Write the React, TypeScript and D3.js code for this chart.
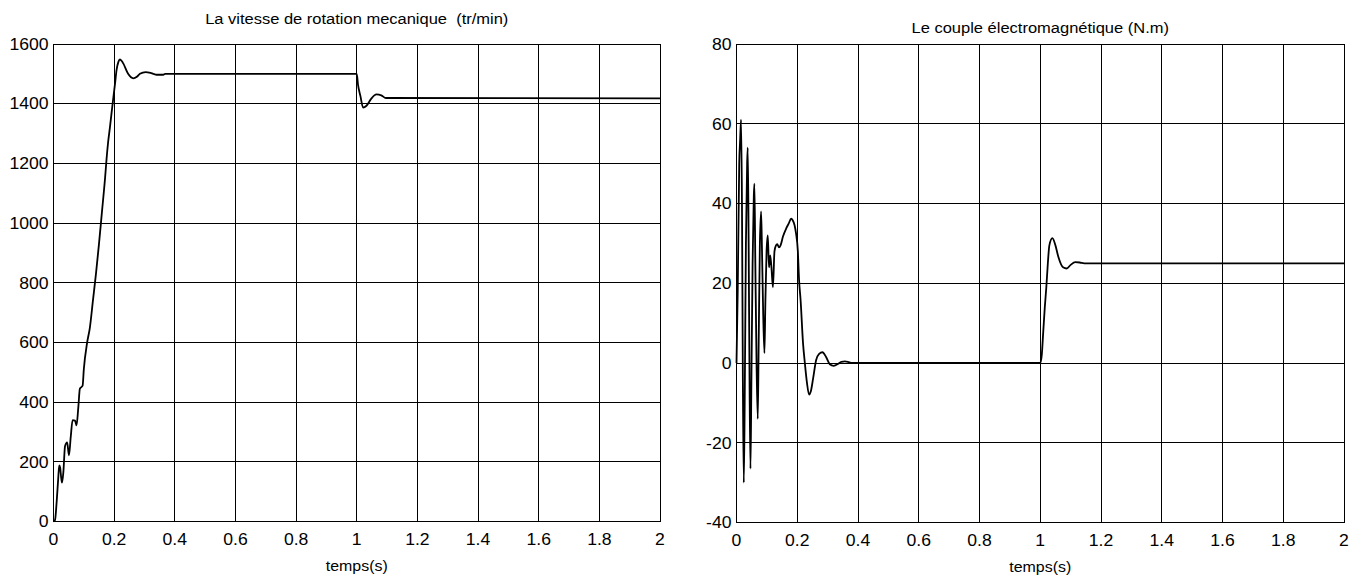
import React from "react";
import * as d3 from "d3";

// Simulation time (s) and mechanical speed (tr/min)
const speedTime = [
  0, 0.005, 0.0105, 0.016, 0.019, 0.022, 0.025, 0.028, 0.0325, 0.038, 0.045, 0.051,
  0.057, 0.063, 0.071, 0.076, 0.082, 0.087, 0.096, 0.1, 0.111, 0.12, 0.13, 0.14, 0.15,
  0.16, 0.17, 0.175, 0.18, 0.186, 0.195, 0.203, 0.208, 0.214, 0.219, 0.225, 0.23,
  0.246, 0.263, 0.275, 0.285, 0.304, 0.32, 0.329, 0.34, 0.362, 0.368, 1.0, 1.004,
  1.012, 1.021, 1.032, 1.048, 1.065, 1.081, 1.096, 2.0,
];
const speedValue = [
  0, 5, 67, 151, 188, 180, 150, 130, 165, 252, 265, 222, 285, 340, 338, 322, 385, 445,
  455, 510, 600, 650, 740, 830, 930, 1040, 1150, 1215, 1270, 1320, 1400, 1468, 1513,
  1540, 1548, 1543, 1535, 1500, 1485, 1490, 1500, 1506, 1503, 1500, 1497, 1497, 1500,
  1500, 1465, 1426, 1387, 1393, 1417, 1431, 1428, 1419, 1418,
];

// Simulation time (s) and electromagnetic torque (N.m)
const torqueTime = [
  0, 0.004, 0.009, 0.012, 0.015, 0.018, 0.021, 0.024, 0.027, 0.031, 0.035, 0.037, 0.04,
  0.043, 0.046, 0.049, 0.053, 0.057, 0.059, 0.062, 0.066, 0.07, 0.073, 0.077, 0.081,
  0.084, 0.088, 0.092, 0.095, 0.099, 0.103, 0.107, 0.111, 0.115, 0.12, 0.125, 0.13,
  0.134, 0.14, 0.145, 0.153, 0.164, 0.172, 0.18, 0.185, 0.191, 0.196, 0.202, 0.206,
  0.211, 0.219, 0.225, 0.232, 0.239, 0.245, 0.252, 0.262, 0.272, 0.283, 0.295, 0.307,
  0.32, 0.335, 0.345, 0.357, 0.37, 0.38, 1.0, 1.005, 1.01, 1.015, 1.02, 1.025, 1.03,
  1.04, 1.05, 1.06, 1.075, 1.087, 1.1, 1.115, 1.13, 1.145, 2.0,
];
const torqueValue = [
  0, 18, 50, 56, 61, 40, -5, -30, -10, 30, 50, 54, 30, -5, -26.5, -5, 25, 42, 45, 25, 0,
  -14, 5, 30, 38, 28, 12, 2.5, 15, 28, 32, 24, 27, 24, 19, 28, 29.5, 29.8, 29, 29.5,
  31.7, 33.8, 35, 36.2, 35.8, 34.6, 32.5, 28, 20.8, 15.8, 5, 0, -5, -7.9, -7, -4, 0.7,
  2.3, 2.7, 1.5, -0.3, -0.7, -0.2, 0.3, 0.4, 0.2, 0, 0, 2, 8, 14, 19, 25, 29.5, 31.3,
  29.5, 26.5, 24, 23.7, 24.6, 25.3, 25.2, 25, 25,
];

const timeTicks = [0, 0.2, 0.4, 0.6, 0.8, 1, 1.2, 1.4, 1.6, 1.8, 2];
const speedTicks = [0, 200, 400, 600, 800, 1000, 1200, 1400, 1600];
const torqueTicks = [-40, -20, 0, 20, 40, 60, 80];

const speedTitle = "La vitesse de rotation mecanique  (tr/min)";
const torqueTitle = "Le couple électromagnétique (N.m)";
const timeLabel = "temps(s)";

const FONT = "'Liberation Sans', Arial, Helvetica, sans-serif";
const STRETCH = 1.1;

type PanelProps = {
  left: number;
  right: number;
  top: number;
  bottom: number;
  xs: number[];
  ys: number[];
  yDomain: [number, number];
  yTicks: number[];
  title: string;
  titleY: number;
};

function Label({ x, y, text, anchor, size }: { x: number; y: number; text: string; anchor: string; size: number }) {
  return (
    <text
      transform={`translate(${x},${y}) scale(${STRETCH},1)`}
      textAnchor={anchor}
      fontFamily={FONT}
      fontSize={size}
      fill="#000"
      style={{ whiteSpace: "pre" }}
    >
      {text}
    </text>
  );
}

function Panel({ left, right, top, bottom, xs, ys, yDomain, yTicks, title, titleY }: PanelProps) {
  const x = d3.scaleLinear().domain([0, 2]).range([left, right]);
  const y = d3.scaleLinear().domain(yDomain).range([bottom, top]);
  const pts: [number, number][] = xs.map((t, i) => [t, ys[i]]);
  const path = d3
    .line<[number, number]>()
    .x((d) => x(d[0]))
    .y((d) => y(d[1]))
    .curve(d3.curveMonotoneX)(pts);
  const cx = (left + right) / 2;
  return (
    <g>
      {timeTicks.map((t) => (
        <line key={"gx" + t} x1={x(t)} x2={x(t)} y1={top} y2={bottom} stroke="#000" strokeWidth={1} shapeRendering="crispEdges" />
      ))}
      {yTicks.map((v) => (
        <line key={"gy" + v} x1={left} x2={right} y1={y(v)} y2={y(v)} stroke="#000" strokeWidth={1} shapeRendering="crispEdges" />
      ))}
      <rect x={left} y={top} width={right - left} height={bottom - top} fill="none" stroke="#000" strokeWidth={1} shapeRendering="crispEdges" />
      <path d={path ?? ""} fill="none" stroke="#000" strokeWidth={1.8} strokeLinejoin="round" />
      {timeTicks.map((t) => (
        <Label key={"tx" + t} x={x(t)} y={bottom + 23.5} text={String(t)} anchor="middle" size={16} />
      ))}
      {yTicks.map((v) => (
        <Label key={"ty" + v} x={left - 5} y={y(v) + 5.8} text={String(v)} anchor="end" size={16} />
      ))}
      <Label x={cx} y={titleY} text={title} anchor="middle" size={15} />
      <Label x={cx} y={bottom + 49.5} text={timeLabel} anchor="middle" size={14.5} />
    </g>
  );
}

export default function App() {
  return (
    <svg
      width={1366}
      height={576}
      style={{ position: "absolute", left: 0, top: 0, background: "#fff" }}
    >
      <rect x={0} y={0} width={1366} height={576} fill="#fff" />
      <Panel
        left={53.5}
        right={660}
        top={44}
        bottom={521.5}
        xs={speedTime}
        ys={speedValue}
        yDomain={[0, 1600]}
        yTicks={speedTicks}
        title={speedTitle}
        titleY={24}
      />
      <Panel
        left={736.5}
        right={1344}
        top={44}
        bottom={522.5}
        xs={torqueTime}
        ys={torqueValue}
        yDomain={[-40, 80]}
        yTicks={torqueTicks}
        title={torqueTitle}
        titleY={32.5}
      />
    </svg>
  );
}
